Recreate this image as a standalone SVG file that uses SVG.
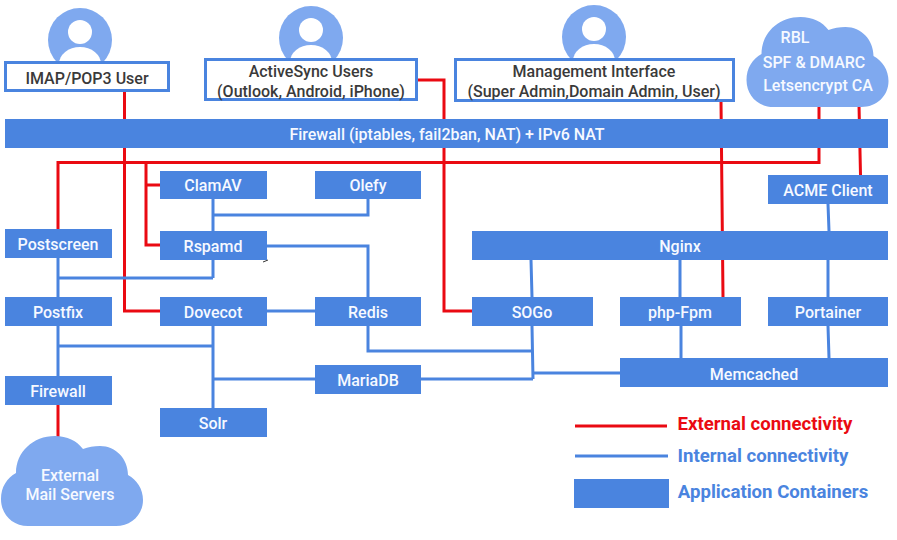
<svg xmlns="http://www.w3.org/2000/svg" width="897" height="540" viewBox="0 0 897 540">
<style>
text{font-family:Roboto,"Liberation Sans",sans-serif;font-weight:500;font-size:16px;text-anchor:middle}
.b{fill:#4a84df}
.t{fill:#f6f9ff}
.d{fill:#3a3a3a}
.w{fill:#fff;stroke:#4a84df;stroke-width:3}
.l{fill:#7fa9ef}
.r,.i{fill:none;stroke-linejoin:miter}
.r{stroke:#ea0a12;stroke-width:3}
.i{stroke:#4a84df;stroke-width:3}
.g{font-size:18.600px;font-weight:700;fill:#4a84df}
</style>
<defs>
<path id="cloud" d="M28 526C12 526 1 514 1 499C1 487 7 478 16 473C16 452 33 436 55 436C67 436 77 441 83 449C88 447 94 446 100 446C116 446 128 459 128 475C137 480 143 489 143 500C143 515 131 526 116 526Z"/>
<g id="person"><circle r="32" class="l"/><circle cy="-8" r="12" fill="#fff"/><ellipse cy="24" rx="21" ry="17" fill="#fff"/></g>
</defs>
<rect width="897" height="540" fill="#fff"/>
<g id="connectors">
<path class="r" d="M124.500 91V311H160M58 229V162.500H819V105M146 162.500V245H160M146 185H160M417 80H444V311H472M721 101L723 297M859 105L860.500 175M58 405V437"/>
<path class="i" d="M213 199V231M213 215H368V199M267 246H368V297M213 260V278M58 258V297M58 278H213M267 311H315M58 326V376M58 346H213M213 326V408M213 379H315M368 326V351H532M421 379H533M532 326L533 379M533 373H620M531 260L532 297M680 260V297M681 326V358M828 326L829 358M828 204L829 231M828 260V297"/>
<path d="M263 262L268 260" stroke="#333" stroke-width="1" fill="none"/>
</g>
<g id="user-imap"><use href="#person" x="80" y="40"/><rect class="w" x="5.500" y="62.500" width="163" height="28"/><text class="d" x="87" y="83.500">IMAP/POP3 User</text></g>
<g id="user-activesync"><use href="#person" x="311" y="38"/><rect class="w" x="205.500" y="59.500" width="211" height="40"/><text class="d" x="311" y="76.700">ActiveSync Users</text><text class="d" x="311" y="96.500">(Outlook, Android, iPhone)</text></g>
<g id="user-management"><use href="#person" x="594" y="37"/><rect class="w" x="455.500" y="59.500" width="278" height="41"/><text class="d" x="594" y="76.700">Management Interface</text><text class="d" x="594" y="96.500">(Super Admin,Domain Admin, User)</text></g>
<g id="cloud-services"><use href="#cloud" class="l" x="745.500" y="-419"/><text class="t" x="795" y="42.500">RBL</text><text class="t" x="814" y="67.500">SPF &amp; DMARC</text><text class="t" x="818" y="90.500">Letsencrypt CA</text></g>
<g id="firewall-top"><rect class="b" x="5" y="119" width="883" height="29"/><text class="t" x="447" y="139.600">Firewall (iptables, fail2ban, NAT) + IPv6 NAT</text></g>
<g id="clamav"><rect class="b" x="160" y="171" width="107" height="28"/><text class="t" x="213" y="191">ClamAV</text></g>
<g id="olefy"><rect class="b" x="315" y="171" width="106" height="28"/><text class="t" x="368" y="191">Olefy</text></g>
<g id="acme"><rect class="b" x="768" y="175" width="120" height="29"/><text class="t" x="828" y="195.500">ACME Client</text></g>
<g id="postscreen"><rect class="b" x="5" y="229" width="107" height="29"/><text class="t" x="58" y="249.600">Postscreen</text></g>
<g id="rspamd"><rect class="b" x="160" y="231" width="107" height="29"/><text class="t" x="213" y="251.600">Rspamd</text></g>
<g id="nginx"><rect class="b" x="472" y="231" width="416" height="29"/><text class="t" x="680" y="251.600">Nginx</text></g>
<g id="postfix"><rect class="b" x="5" y="297" width="107" height="29"/><text class="t" x="58" y="317.600">Postfix</text></g>
<g id="dovecot"><rect class="b" x="160" y="297" width="107" height="29"/><text class="t" x="213" y="317.600">Dovecot</text></g>
<g id="redis"><rect class="b" x="315" y="297" width="106" height="29"/><text class="t" x="368" y="317.600">Redis</text></g>
<g id="sogo"><rect class="b" x="472" y="297" width="121" height="29"/><text class="t" x="532" y="317.600">SOGo</text></g>
<g id="phpfpm"><rect class="b" x="620" y="297" width="121" height="29"/><text class="t" x="680" y="317.600">php-Fpm</text></g>
<g id="portainer"><rect class="b" x="768" y="297" width="120" height="29"/><text class="t" x="828" y="317.600">Portainer</text></g>
<g id="memcached"><rect class="b" x="620" y="358" width="268" height="29"/><text class="t" x="754" y="379.500">Memcached</text></g>
<g id="mariadb"><rect class="b" x="315" y="365" width="106" height="29"/><text class="t" x="368" y="385.600">MariaDB</text></g>
<g id="firewall"><rect class="b" x="5" y="376" width="107" height="29"/><text class="t" x="58" y="396.600">Firewall</text></g>
<g id="solr"><rect class="b" x="160" y="408" width="107" height="29"/><text class="t" x="213" y="429">Solr</text></g>
<g id="cloud-mail"><use href="#cloud" class="l"/><text class="t" x="70" y="480.500">External</text><text class="t" x="70" y="499.500">Mail Servers</text></g>
<g id="legend">
<path class="r" d="M575 426H667"/><path class="i" d="M575 456H668"/>
<rect class="b" x="574" y="479" width="95" height="29"/>
<text x="765" y="430" class="g" style="fill:#ea0a12">External connectivity</text>
<text x="763" y="462" class="g">Internal connectivity</text>
<text x="773" y="498" class="g">Application Containers</text>
</g>
</svg>
